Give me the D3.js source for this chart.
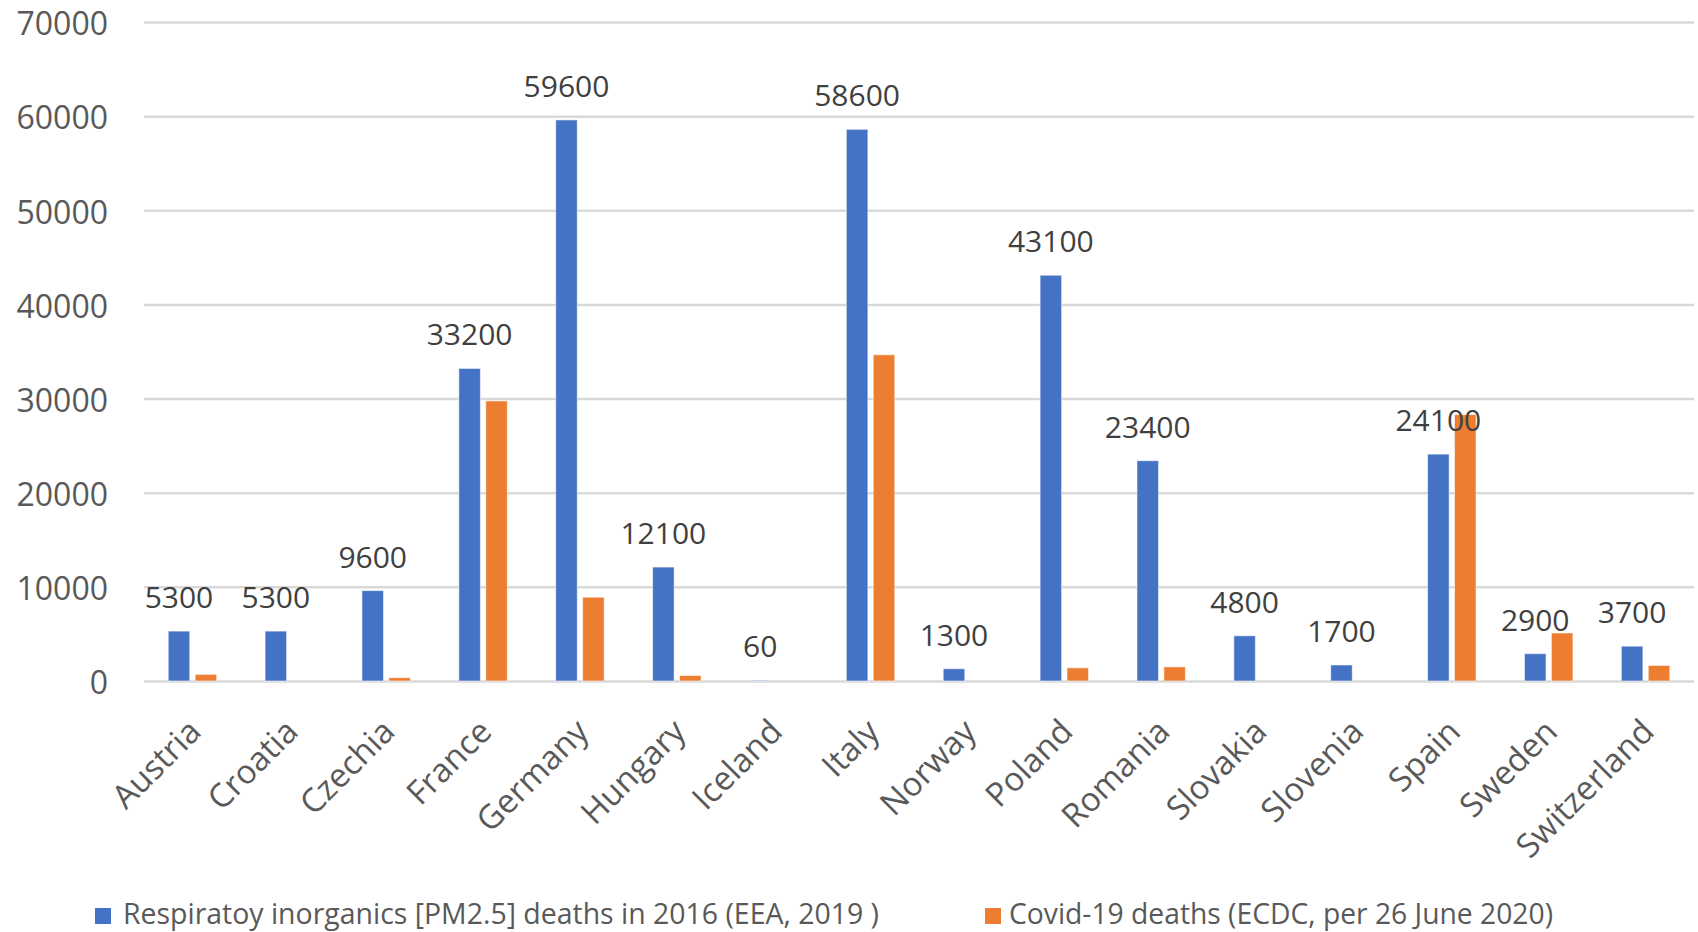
<!DOCTYPE html>
<html>
<head>
<meta charset="utf-8">
<script src="https://cdn.jsdelivr.net/npm/d3@7"></script>
<style>
  html, body { margin: 0; padding: 0; background: #ffffff; }
  svg { display: block; }
</style>
</head>
<body>
<svg id="chart" width="1698" height="932"></svg>
<script>
// Countries on the category axis
const countries = ["Austria", "Croatia", "Czechia", "France", "Germany", "Hungary", "Iceland", "Italy",
  "Norway", "Poland", "Romania", "Slovakia", "Slovenia", "Spain", "Sweden", "Switzerland"];

// Respiratory inorganics (PM2.5) deaths in 2016
const pm25Deaths = [5300, 5300, 9600, 33200, 59600, 12100, 60, 58600,
  1300, 43100, 23400, 4800, 1700, 24100, 2900, 3700];

// Covid-19 deaths per 26 June 2020
const covidDeaths = [700, 0, 350, 29750, 8900, 580, 0, 34650,
  0, 1400, 1500, 0, 0, 28300, 5100, 1650];

const seriesNames = [
  "Respiratoy inorganics [PM2.5] deaths in 2016 (EEA, 2019 )",
  "Covid-19 deaths (ECDC, per 26 June 2020)"
];
const seriesColors = ["#4472C4", "#ED7D31"];

const yTicks = [0, 10000, 20000, 30000, 40000, 50000, 60000, 70000];

const W = 1698, H = 932;
const plot = { left: 144, right: 1694, top: 22, bottom: 681 };

const svg = d3.select("#chart");

const x0 = d3.scaleBand()
  .domain(countries)
  .range([plot.left, plot.right])
  .paddingInner(0.5)
  .paddingOuter(0.25);

const x1 = d3.scaleBand()
  .domain([0, 1])
  .range([0, x0.bandwidth()])
  .paddingInner(0.2);

const y = d3.scaleLinear()
  .domain([0, 70000])
  .range([plot.bottom, plot.top]);

// Horizontal gridlines and value labels
const yAxis = d3.axisLeft(y)
  .tickValues(yTicks)
  .tickSize(-(plot.right - plot.left))
  .tickPadding(36)
  .tickFormat(d3.format("d"));

const gy = svg.append("g")
  .attr("transform", `translate(${plot.left},0)`)
  .call(yAxis);
gy.select(".domain").remove();
gy.selectAll(".tick line")
  .attr("stroke", "#d9d9d9")
  .attr("stroke-width", 2.5);
gy.selectAll(".tick text")
  .attr("fill", "#595959")
  .attr("dy", "0.4em")
  .style("font-family", "'Open Sans', sans-serif")
  .style("font-size", "32px");

// Bars
const rows = countries.map((c, i) => ({ country: c, values: [pm25Deaths[i], covidDeaths[i]] }));

const groups = svg.append("g").selectAll("g")
  .data(rows)
  .join("g")
  .attr("transform", d => `translate(${x0(d.country)},0)`);

groups.selectAll("rect")
  .data(d => d.values.map((v, k) => ({ k, v })))
  .join("rect")
  .filter(d => d.v > 0)
  .attr("x", d => x1(d.k))
  .attr("width", x1.bandwidth())
  .attr("y", d => y(d.v))
  .attr("height", d => y(0) - y(d.v))
  .attr("fill", d => seriesColors[d.k])
  .attr("stroke", "rgba(255,255,255,0.55)")
  .attr("stroke-width", 1);

// Value labels for the PM2.5 series
svg.append("g").selectAll("text")
  .data(rows)
  .join("text")
  .attr("x", d => x0(d.country) + x1(0) + x1.bandwidth() / 2)
  .attr("y", d => y(d.values[0]) - 23)
  .attr("text-anchor", "middle")
  .attr("fill", "#404040")
  .style("font-family", "'Open Sans', sans-serif")
  .style("font-size", "30px")
  .text(d => d.values[0]);

// Category labels, rotated
const xAxis = d3.axisBottom(x0).tickSize(0).tickPadding(0);
const gx = svg.append("g")
  .attr("transform", `translate(0,${plot.bottom})`)
  .call(xAxis);
gx.select(".domain").remove();
gx.selectAll(".tick text")
  .attr("fill", "#595959")
  .style("font-family", "'Open Sans', sans-serif")
  .style("font-size", "33px")
  .attr("text-anchor", "end")
  .attr("transform", "translate(-6,36) rotate(-45)")
  .attr("dy", "0.71em")
  .attr("y", 0)
  .attr("x", 0);

// Legend
const legendItems = [
  { name: seriesNames[0], color: seriesColors[0], sx: 95, tx: 123, len: 756 },
  { name: seriesNames[1], color: seriesColors[1], sx: 985, tx: 1009, len: 544 }
];
const lg = svg.append("g");
lg.selectAll("rect")
  .data(legendItems)
  .join("rect")
  .attr("x", d => d.sx)
  .attr("y", 908)
  .attr("width", 16)
  .attr("height", 16)
  .attr("fill", d => d.color);
lg.selectAll("text")
  .data(legendItems)
  .join("text")
  .attr("x", d => d.tx)
  .attr("y", 924)
  .attr("fill", "#595959")
  .style("font-family", "'Liberation Sans Narrow', 'Open Sans', sans-serif")
  .style("font-size", "29px")
  .attr("textLength", d => d.len)
  .attr("lengthAdjust", "spacingAndGlyphs")
  .text(d => d.name);
</script>
</body>
</html>
